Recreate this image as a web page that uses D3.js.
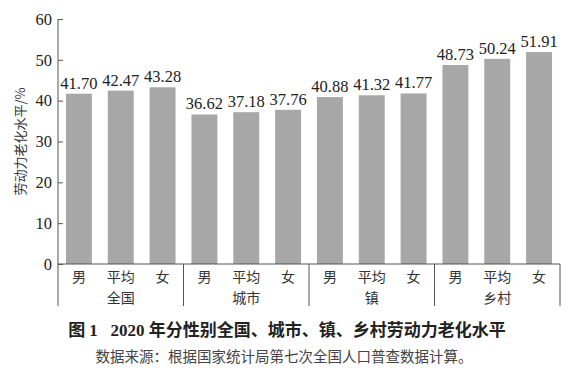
<!DOCTYPE html>
<html><head><meta charset="utf-8">
<script src="https://cdn.jsdelivr.net/npm/d3@7"></script>
<style>body{margin:0;background:#fff}
.num{font-family:"Liberation Serif","Times New Roman","DejaVu Serif",serif;}
.cjk{font-family:"Noto Sans CJK SC","Noto Sans CJK JP",sans-serif;}
.cap{font-family:"Liberation Serif","Noto Sans CJK SC",serif;}
</style>
</head><body>
<svg id="c" width="578" height="381"></svg>
<script>
const groups = ["全国","城市","镇","乡村"];
const sexes = ["男","平均","女"];
const values = [
  [41.70, 42.47, 43.28],
  [36.62, 37.18, 37.76],
  [40.88, 41.32, 41.77],
  [48.73, 50.24, 51.91]
];
const yTicks = [0,10,20,30,40,50,60];
const yTitle = "劳动力老化水平/%";
const title = "图 1\u2002 2020 年分性别全国、城市、镇、乡村劳动力老化水平";
const source = "数据来源：根据国家统计局第七次全国人口普查数据计算。";

(function(){
const svg = d3.select("#c");
const mLeft = 58, mRight = 560, mTop = 19, mBottom = 264;
const lineCol = "#555";

const y = d3.scaleLinear().domain([0,60]).range([mBottom, mTop]);
const gx = d3.scaleBand().domain(groups).range([mLeft, mRight]).padding(0);
const sx = d3.scaleBand().domain(sexes).range([0, gx.bandwidth()]).paddingInner(0.38).paddingOuter(0.19);

groups.forEach((g, gi) => {
  const gg = svg.append("g").attr("transform", `translate(${gx(g)},0)`);
  sexes.forEach((s, si) => {
    const v = values[gi][si];
    gg.append("rect").attr("x", sx(s)).attr("width", sx.bandwidth())
      .attr("y", y(v)).attr("height", y(0) - y(v)).attr("fill", "#a7a7a7");
    gg.append("text").attr("class","num").attr("x", sx(s) + sx.bandwidth()/2).attr("y", y(v) - 5)
      .attr("text-anchor", "middle").attr("font-size", 16.5)
      .attr("fill", "#222").text(v.toFixed(2));
    gg.append("text").attr("class","cjk").attr("x", sx(s) + sx.bandwidth()/2).attr("y", 282)
      .attr("text-anchor", "middle").attr("font-size", 14)
      .attr("fill", "#333").text(s);
  });
  gg.append("text").attr("class","cjk").attr("x", gx.bandwidth()/2).attr("y", 303)
    .attr("text-anchor", "middle").attr("font-size", 14)
    .attr("fill", "#333").text(g);
});

const yAxis = d3.axisLeft(y).tickValues(yTicks).tickSize(-5).tickPadding(6);
const ya = svg.append("g").attr("transform", `translate(${mLeft},0)`).call(yAxis);
ya.attr("font-family", null);
ya.select(".domain").remove();
ya.selectAll("line").attr("stroke", lineCol);
ya.selectAll("text").attr("class","num").attr("font-size", 16.5).attr("fill", "#222");
svg.append("line").attr("x1", mLeft).attr("x2", mLeft).attr("y1", mTop).attr("y2", 306).attr("stroke", lineCol);

svg.append("line").attr("x1", mLeft).attr("x2", mRight).attr("y1", mBottom).attr("y2", mBottom).attr("stroke", lineCol);
groups.forEach(g => {
  const xx = gx(g) + gx.bandwidth();
  svg.append("line").attr("x1", xx).attr("x2", xx).attr("y1", mBottom).attr("y2", 306).attr("stroke", lineCol);
});

svg.append("text").attr("class","cjk").attr("transform", `translate(25,${(mTop+mBottom)/2}) rotate(-90)`)
  .attr("text-anchor", "middle").attr("font-size", 13)
  .attr("fill", "#333").text(yTitle);

svg.append("text").attr("class","cap").attr("x", 287).attr("y", 336).attr("text-anchor", "middle")
  .attr("font-weight", "bold").attr("font-size", 17)
  .attr("fill", "#222").text(title);
svg.append("text").attr("class","cjk").attr("x", 284).attr("y", 362).attr("text-anchor", "middle")
  .attr("font-size", 14.5)
  .attr("fill", "#444").text(source);
})();
</script>
</body></html>
